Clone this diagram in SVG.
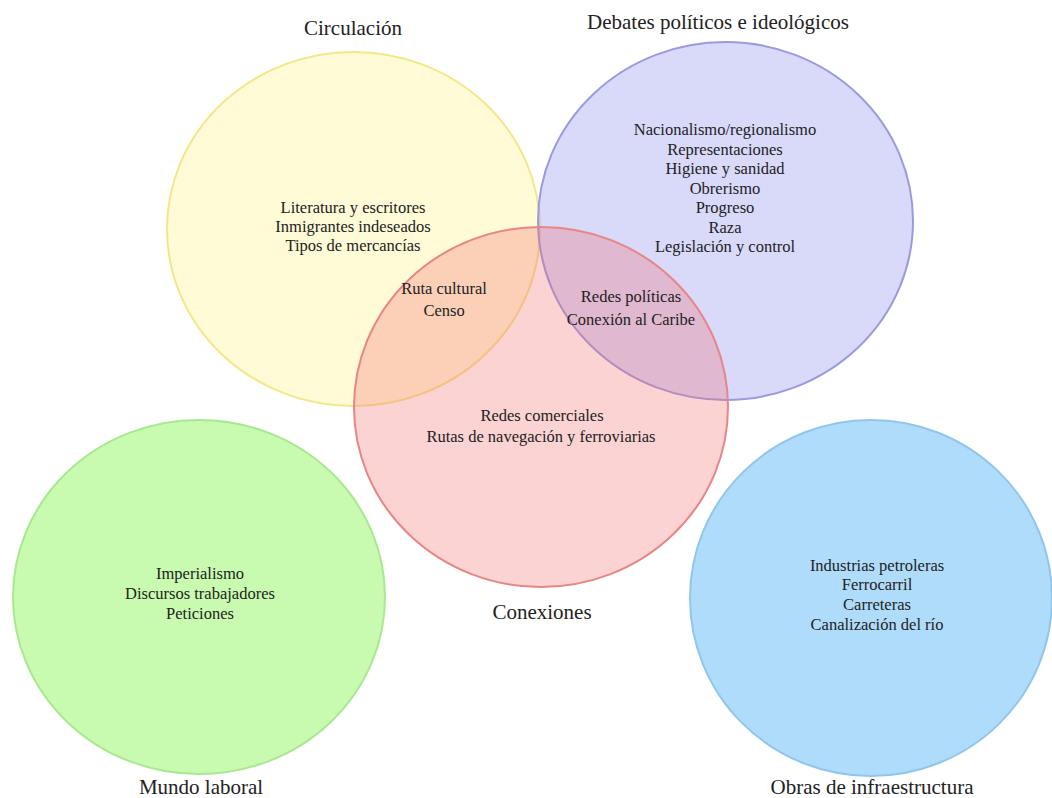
<svg xmlns="http://www.w3.org/2000/svg" width="1052" height="798" viewBox="0 0 1052 798">
<style>
.t{font-family:"Liberation Serif","DejaVu Serif",serif;font-size:16.5px;fill:#222;text-anchor:middle}
.h{font-family:"Liberation Serif","DejaVu Serif",serif;font-size:21px;fill:#222;text-anchor:middle}
.c{stroke-width:2}
</style>
<rect x="0" y="0" width="1052" height="798" fill="#ffffff"/>
<g id="circulacion">
<ellipse class="c" cx="353.5" cy="229" rx="186.5" ry="177" fill="#fff27a" fill-opacity="0.3" stroke="#f4e788"/>
<text class="h" x="353" y="35">Circulación</text>
<text class="t" x="353" y="213">Literatura y escritores</text>
<text class="t" x="353" y="232">Inmigrantes indeseados</text>
<text class="t" x="353" y="251">Tipos de mercancías</text>
</g>
<g id="debates">
<ellipse class="c" cx="725.5" cy="221" rx="187.5" ry="179" fill="#8080f0" fill-opacity="0.3" stroke="#9a9ae0"/>
<text class="h" x="718" y="29">Debates políticos e ideológicos</text>
<text class="t" x="725" y="135">Nacionalismo/regionalismo</text>
<text class="t" x="725" y="155">Representaciones</text>
<text class="t" x="725" y="174">Higiene y sanidad</text>
<text class="t" x="725" y="194">Obrerismo</text>
<text class="t" x="725" y="213">Progreso</text>
<text class="t" x="725" y="233">Raza</text>
<text class="t" x="725" y="252">Legislación y control</text>
</g>
<g id="conexiones">
<ellipse class="c" cx="541" cy="407" rx="187" ry="180" fill="#f26d6d" fill-opacity="0.3" stroke="#e88585"/>
<text class="t" x="542" y="421">Redes comerciales</text>
<text class="t" x="541" y="442">Rutas de navegación y ferroviarias</text>
<text class="h" x="542" y="619">Conexiones</text>
</g>
<g id="circulacion-conexiones">
<text class="t" x="444" y="294">Ruta cultural</text>
<text class="t" x="444" y="316">Censo</text>
</g>
<g id="debates-conexiones">
<text class="t" x="631" y="302">Redes políticas</text>
<text class="t" x="631" y="325">Conexión al Caribe</text>
</g>
<g id="mundo-laboral">
<ellipse class="c" cx="199" cy="597" rx="186" ry="177" fill="#c8fbb0" stroke="#a8e890"/>
<text class="t" x="200" y="579">Imperialismo</text>
<text class="t" x="200" y="599">Discursos trabajadores</text>
<text class="t" x="200" y="619">Peticiones</text>
<text class="h" x="201" y="794">Mundo laboral</text>
</g>
<g id="obras-infraestructura">
<ellipse class="c" cx="871" cy="598" rx="181" ry="178" fill="#b0dcfb" stroke="#90c6ea"/>
<text class="t" x="877" y="571">Industrias petroleras</text>
<text class="t" x="877" y="590">Ferrocarril</text>
<text class="t" x="877" y="610">Carreteras</text>
<text class="t" x="877" y="630">Canalización del río</text>
<text class="h" x="872" y="794">Obras de infraestructura</text>
</g>
<g id="connectors"></g>
</svg>
